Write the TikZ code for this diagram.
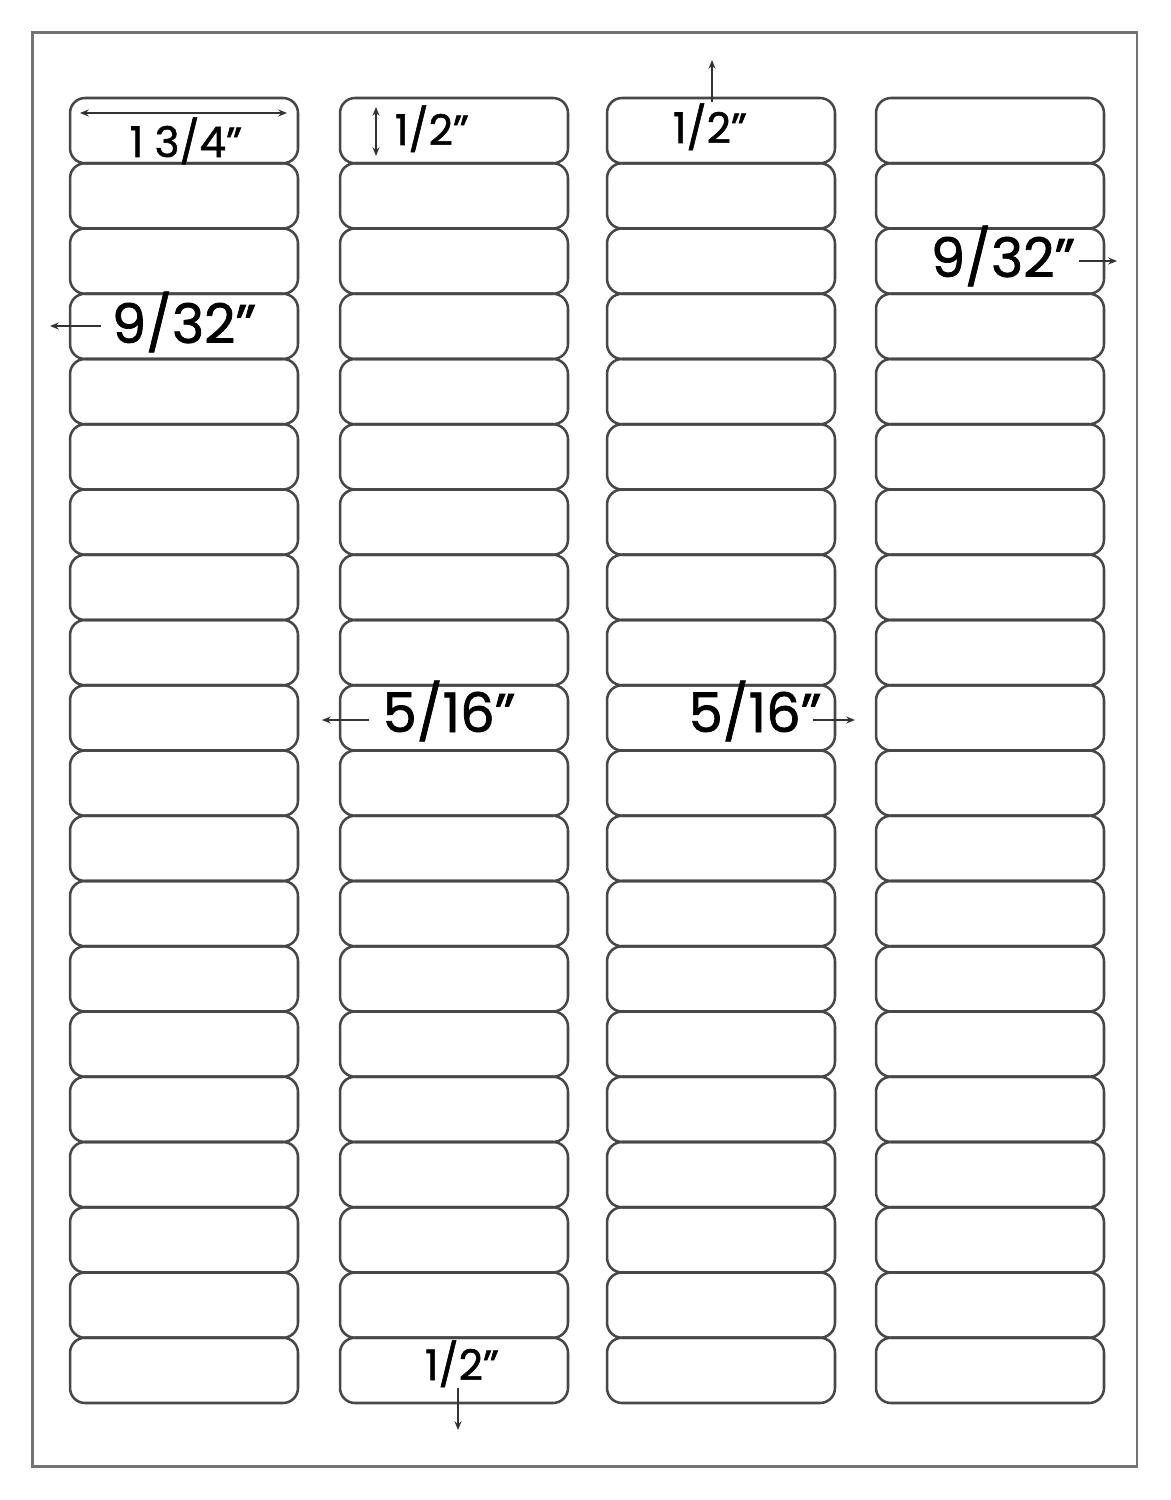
\documentclass[tikz,border=0pt]{standalone}
\usepackage{fontspec}
\setmainfont{Poppins}[FakeBold=1.3]
\usetikzlibrary{arrows.meta}
\begin{document}
\begin{tikzpicture}[x=0.02cm,y=-0.02cm,
  labelbox/.style={draw=black!72, line width=1.45pt, rounded corners=0.3cm, minimum width=4.56cm, minimum height=1.305cm, inner sep=0pt},
  sheet/.style={draw=black!55, line width=1.6pt, minimum width=22.1cm, minimum height=28.7cm, inner sep=0pt},
  dimsmall/.style={font=\fontsize{24}{24}\selectfont, inner sep=0pt, anchor=base},
  dimbig/.style={font=\fontsize{31}{31}\selectfont, inner sep=0pt, anchor=base},
  dimline/.style={line width=1pt, draw=black!80, -{Stealth[length=5pt,width=4pt]}},
  dimboth/.style={line width=1pt, draw=black!80, {Stealth[length=5pt,width=4pt]}-{Stealth[length=5pt,width=4pt]}},
]
\useasboundingbox (0,0) rectangle (1170,1500);
\node[sheet] (sheet) at (584.5,749.5) {};
\foreach \c/\x in {1/184,2/454,3/721,4/990}{
  \foreach \r in {1,...,20}{
    \node[labelbox] (L\c-\r) at (\x,{98+65.25*(\r-0.5)}) {};
  }
}
% texts
\node[dimsmall] (w134) at (186,157) {1 3/4”};
\node[dimsmall] (h12a) at (432,145) {1/2”};
\node[dimsmall] (m12t) at (710,143) {1/2”};
\node[dimsmall] (m12b) at (462,1380) {1/2”};
\node[dimbig] (s932l) at (184,343) {9/32”};
\node[dimbig] (s932r) at (1003,277) {9/32”};
\node[dimbig] (g516l) at (449,732) {5/16”};
\node[dimbig] (g516r) at (755,732) {5/16”};
% dimension line ends
\coordinate (w1) at (80,113);
\coordinate (w2) at (287,113);
\coordinate (h1) at (376,107);
\coordinate (h2) at (376,156);
\coordinate (t1) at (712,102);
\coordinate (t2) at (712,60);
\coordinate (b1) at (458,1388);
\coordinate (b2) at (458,1430);
\coordinate (l1) at (101,326);
\coordinate (l2) at (50,326);
\coordinate (r1) at (1079,261);
\coordinate (r2) at (1117,261);
\coordinate (gl1) at (369,720);
\coordinate (gl2) at (322,720);
\coordinate (gr1) at (813,720);
\coordinate (gr2) at (855,720);
\draw[dimboth] (w1) -- (w2);
\draw[dimboth] (h1) -- (h2);
\draw[dimline] (t1) -- (t2);
\draw[dimline] (b1) -- (b2);
\draw[dimline] (l1) -- (l2);
\draw[dimline] (r1) -- (r2);
\draw[dimline] (gl1) -- (gl2);
\draw[dimline] (gr1) -- (gr2);
\end{tikzpicture}
\end{document}
